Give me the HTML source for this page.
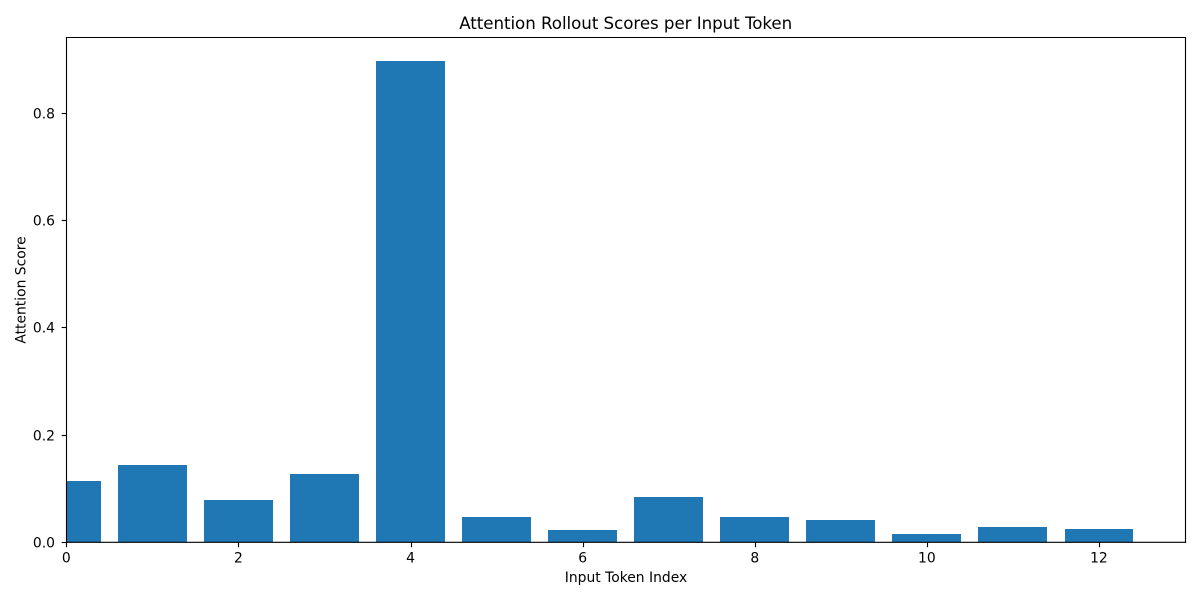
<!DOCTYPE html>
<html lang="en">
<head>
<meta charset="utf-8">
<title>Attention Rollout Scores per Input Token</title>
<style>
html,body{margin:0;padding:0;background:#fff;}
svg{display:block;}
text{font-family:"DejaVu Sans",sans-serif;fill:#000;}
</style>
</head>
<body>
<svg id="chart" xmlns="http://www.w3.org/2000/svg" width="1200" height="600" viewBox="0 0 1200 600">
  <rect x="0" y="0" width="1200" height="600" fill="#ffffff"/>
  <text x="625.7" y="29" font-size="16.67" text-anchor="middle" textLength="333" lengthAdjust="spacing">Attention Rollout Scores per Input Token</text>
  <text x="626" y="582" font-size="13.89" text-anchor="middle">Input Token Index</text>
  <text transform="translate(25.5,290) rotate(-90)" font-size="13.89" text-anchor="middle">Attention Score</text>
  <g id="bars"></g>
  <g id="x-ticks"></g>
  <g id="y-ticks"></g>
  <g id="spines"></g>
</svg>
<script>
const tokenIndices = [0, 1, 2, 3, 4, 5, 6, 7, 8, 9, 10, 11, 12];
const attentionScores = [0.1138, 0.1437, 0.0784, 0.1269, 0.8977, 0.0467, 0.0224, 0.084, 0.0467, 0.0411, 0.0149, 0.028, 0.0243];
const xTickValues = [0, 2, 4, 6, 8, 10, 12];
const yTickValues = [0, 0.2, 0.4, 0.6, 0.8];
const yTickLabels = ['0.0', '0.2', '0.4', '0.6', '0.8'];

const NS = 'http://www.w3.org/2000/svg';
const plotLeft = 66.35, plotRight = 1185, plotTop = 37.5, plotBottom = 542.3;
const xMin = 0, xMax = 13, yMin = 0, yMax = 0.9418;
const barWidth = 0.8;

function xScale(v) { return plotLeft + (v - xMin) / (xMax - xMin) * (plotRight - plotLeft); }
function yScale(v) { return plotBottom - (v - yMin) / (yMax - yMin) * (plotBottom - plotTop); }
function make(tag, attrs) {
  const el = document.createElementNS(NS, tag);
  for (const k in attrs) el.setAttribute(k, attrs[k]);
  return el;
}

const barsGroup = document.getElementById('bars');
tokenIndices.forEach(function (token, i) {
  const left = Math.max(Math.round(xScale(token - barWidth / 2)), 66.5);
  const right = Math.round(xScale(token + barWidth / 2));
  const top = Math.round(yScale(attentionScores[i]));
  const bottom = Math.round(yScale(0));
  const bar = make('rect', { x: left, y: top, width: right - left, height: bottom - top, fill: '#1f77b4' });
  
  
  barsGroup.appendChild(bar);
});

const frameLeft = 66.5, frameRight = 1185.5;

const xTicksGroup = document.getElementById('x-ticks');
xTickValues.forEach(function (value) {
  const x = Math.round(xScale(value)) + 0.5;
  const mark = make('line', { x1: x, x2: x, y1: plotBottom, y2: plotBottom + 4.86, stroke: '#000', 'stroke-width': 1.11 });
  
  
  xTicksGroup.appendChild(mark);
  const label = make('text', { x: xScale(value), y: 562.3, 'font-size': 13.89, 'text-anchor': 'middle' });
  
  
  label.textContent = String(value);
  xTicksGroup.appendChild(label);
});

const yTicksGroup = document.getElementById('y-ticks');
yTickValues.forEach(function (value, i) {
  const y = Math.floor(yScale(value)) + 0.5;
  const mark = make('line', { x1: frameLeft - 4.86, x2: frameLeft, y1: y, y2: y, stroke: '#000', 'stroke-width': 1.11 });
  
  
  yTicksGroup.appendChild(mark);
  const label = make('text', { x: 55, y: y + 5.2, 'font-size': 13.89, 'text-anchor': 'end' });
  
  
  label.textContent = yTickLabels[i];
  yTicksGroup.appendChild(label);
});

const spinesGroup = document.getElementById('spines');
const spineSides = ['left', 'right', 'top', 'bottom'];
const spineCoords = [
  [frameLeft, plotTop, frameLeft, plotBottom],
  [frameRight, plotTop, frameRight, plotBottom],
  [frameLeft, plotTop, frameRight, plotTop],
  [frameLeft, plotBottom, frameRight, plotBottom]
];
spineSides.forEach(function (side, i) {
  const c = spineCoords[i];
  const spine = make('line', { x1: c[0], y1: c[1], x2: c[2], y2: c[3], stroke: '#000', 'stroke-width': 1.11, 'stroke-linecap': 'square' });
  
  
  spinesGroup.appendChild(spine);
});
</script>
</body>
</html>
